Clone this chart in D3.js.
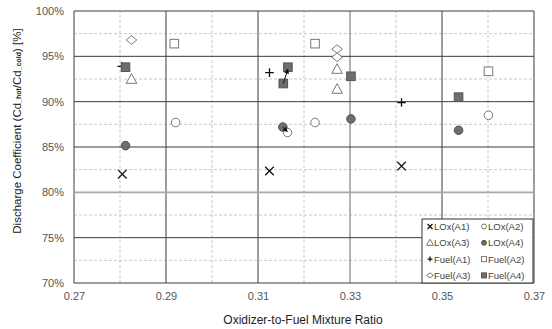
<!DOCTYPE html>
<html>
<head>
<meta charset="utf-8">
<script src="https://cdn.jsdelivr.net/npm/d3@7"></script>
<style>
  body { margin: 0; background: #fff; }
  text { font-family: "Liberation Sans", Arial, sans-serif; }
</style>
</head>
<body>
<div id="chart"></div>
<script>
// Data: [mixture ratio, Cd_hot/Cd_cold %]
const loxA1 = [[0.2805, 82.0], [0.3125, 82.35], [0.3412, 82.9]];
const loxA2 = [[0.2921, 87.7], [0.3224, 87.7], [0.3164, 86.6], [0.3601, 88.5]];
const loxA3 = [[0.2825, 92.5], [0.3272, 93.6], [0.3272, 91.4]];
const loxA4 = [[0.2812, 85.15], [0.3154, 87.2], [0.3302, 88.1], [0.3536, 86.85]];
const fuelA1 = [[0.2804, 93.9], [0.3125, 93.2], [0.3412, 89.9]];
const fuelA2 = [[0.2918, 96.4], [0.3224, 96.4], [0.3601, 93.35]];
const fuelA3 = [[0.2825, 96.8], [0.3272, 95.8], [0.3272, 94.9]];
const fuelA4 = [[0.2812, 93.8], [0.3155, 92.0], [0.3165, 93.8], [0.3302, 92.8], [0.3536, 90.5]];

// arrows drawn on the figure (from -> to)
const arrows = [
  [[0.3155, 92.0], [0.3165, 93.6]],
  [[0.3154, 87.2], [0.3164, 86.7]]
];

const xTicks = [0.27, 0.29, 0.31, 0.33, 0.35, 0.37];
const yTicks = [70, 75, 80, 85, 90, 95, 100];

const series = [
  {name: "LOx(A1)", data: loxA1, shape: "x"},
  {name: "LOx(A2)", data: loxA2, shape: "circleOpen"},
  {name: "LOx(A3)", data: loxA3, shape: "triangle"},
  {name: "LOx(A4)", data: loxA4, shape: "circleFill"},
  {name: "Fuel(A1)", data: fuelA1, shape: "plus"},
  {name: "Fuel(A2)", data: fuelA2, shape: "squareOpen"},
  {name: "Fuel(A3)", data: fuelA3, shape: "diamond"},
  {name: "Fuel(A4)", data: fuelA4, shape: "squareFill"}
];

const width = 552, height = 329;
const margin = {left: 74, right: 18, top: 11, bottom: 46};

const svg = d3.select("#chart").append("svg")
    .attr("width", width)
    .attr("height", height);

const x = d3.scaleLinear().domain([0.27, 0.37]).range([margin.left, width - margin.right]);
const y = d3.scaleLinear().domain([70, 100]).range([height - margin.bottom, margin.top]);

// minor dashed grid
const minorX = d3.range(0.28, 0.37, 0.02);
const minorY = d3.range(72.5, 100, 5);
svg.append("g").selectAll("line").data(minorX).join("line")
    .attr("x1", d => x(d)).attr("x2", d => x(d))
    .attr("y1", y(70)).attr("y2", y(100))
    .attr("stroke", "#c8c8c8").attr("stroke-dasharray", "3,2");
svg.append("g").selectAll("line").data(minorY).join("line")
    .attr("x1", x(0.27)).attr("x2", x(0.37))
    .attr("y1", d => y(d)).attr("y2", d => y(d))
    .attr("stroke", "#c8c8c8").attr("stroke-dasharray", "3,2");

// major grid
svg.append("g").selectAll("line").data(xTicks).join("line")
    .attr("x1", d => x(d)).attr("x2", d => x(d))
    .attr("y1", y(70)).attr("y2", y(100))
    .attr("stroke", d => d === 0.33 ? "#a0a0a0" : "#3c3c3c")
    .attr("stroke-width", d => d === 0.33 ? 1.6 : 1);
svg.append("g").selectAll("line").data(yTicks).join("line")
    .attr("x1", x(0.27)).attr("x2", x(0.37))
    .attr("y1", d => y(d)).attr("y2", d => y(d))
    .attr("stroke", d => d === 80 ? "#a8a8a8" : "#3c3c3c")
    .attr("stroke-width", d => d === 80 ? 1.6 : 1);

// axes (labels only)
const xAxis = svg.append("g")
    .attr("transform", `translate(0,${y(70)})`)
    .call(d3.axisBottom(x).tickValues(xTicks).tickFormat(d3.format(".2f")).tickSize(0).tickPadding(9));
const yAxis = svg.append("g")
    .attr("transform", `translate(${x(0.27)},0)`)
    .call(d3.axisLeft(y).tickValues(yTicks).tickFormat(d => d + "%").tickSize(0).tickPadding(10));
[xAxis, yAxis].forEach(a => {
  a.select(".domain").remove();
  a.selectAll("text").attr("fill", "#555").style("font-size", "11px")
      .style("font-family", "'Liberation Sans', Arial, sans-serif");
});

// arrows
svg.append("defs").append("marker")
    .attr("id", "arrow").attr("viewBox", "0 0 10 10")
    .attr("refX", 9).attr("refY", 5)
    .attr("markerWidth", 5).attr("markerHeight", 5)
    .attr("orient", "auto")
  .append("path").attr("d", "M0,0L10,5L0,10z").attr("fill", "#111");

function drawShape(g, shape, size) {
  const s = size;
  if (shape === "x") {
    g.append("path").attr("d", `M${-s},${-s}L${s},${s}M${-s},${s}L${s},${-s}`)
      .attr("stroke", "#111").attr("stroke-width", 1.3);
  } else if (shape === "plus") {
    g.append("path").attr("d", `M${-s},0L${s},0M0,${-s}L0,${s}`)
      .attr("stroke", "#111").attr("stroke-width", 1.3);
  } else if (shape === "circleOpen") {
    g.append("circle").attr("r", s).attr("fill", "#fff").attr("stroke", "#777");
  } else if (shape === "circleFill") {
    g.append("circle").attr("r", s).attr("fill", "#6e6e6e").attr("stroke", "#555");
  } else if (shape === "squareOpen") {
    g.append("rect").attr("x", -s).attr("y", -s).attr("width", 2 * s).attr("height", 2 * s)
      .attr("fill", "#fff").attr("stroke", "#777");
  } else if (shape === "squareFill") {
    g.append("rect").attr("x", -s).attr("y", -s).attr("width", 2 * s).attr("height", 2 * s)
      .attr("fill", "#6e6e6e").attr("stroke", "#555");
  } else if (shape === "triangle") {
    g.append("path").attr("d", `M0,${-s - 1}L${s + 1},${s}L${-s - 1},${s}Z`)
      .attr("fill", "#fff").attr("stroke", "#777");
  } else if (shape === "diamond") {
    g.append("path").attr("d", `M0,${-s}L${s + 1},0L0,${s}L${-s - 1},0Z`)
      .attr("fill", "#fff").attr("stroke", "#777");
  }
}

// points
series.forEach(sr => {
  svg.append("g").selectAll("g").data(sr.data).join("g")
      .attr("transform", d => `translate(${x(d[0])},${y(d[1])})`)
      .each(function() { drawShape(d3.select(this), sr.shape, 4.3); });
});

svg.append("g").selectAll("line").data(arrows).join("line")
    .attr("x1", d => x(d[0][0])).attr("y1", d => y(d[0][1]))
    .attr("x2", d => x(d[1][0])).attr("y2", d => y(d[1][1]))
    .attr("stroke", "#111").attr("stroke-width", 1)
    .attr("marker-end", "url(#arrow)");

// legend
const lg = svg.append("g").attr("transform", "translate(422,219)");
lg.append("rect").attr("width", 111).attr("height", 64)
    .attr("fill", "#fff").attr("stroke", "#333");
series.forEach((sr, i) => {
  const col = i % 2, row = Math.floor(i / 2);
  const item = lg.append("g").attr("transform", `translate(${8 + col * 54},${7.5 + row * 16.3})`);
  drawShape(item.append("g"), sr.shape, 2.5);
  item.append("text").attr("x", 4).attr("y", 3.5)
      .attr("fill", "#444").style("font-size", "9.5px").text(sr.name);
});

// axis titles
svg.append("text")
    .attr("x", 303).attr("y", 324)
    .attr("text-anchor", "middle").attr("fill", "#222")
    .style("font-size", "12px")
    .text("Oxidizer-to-Fuel Mixture Ratio");

const yl = svg.append("text")
    .attr("transform", `translate(21,131) rotate(-90)`)
    .attr("text-anchor", "middle").attr("fill", "#222")
    .style("font-size", "11.5px");
yl.append("tspan").text("Discharge  Coefficient  (Cd");
yl.append("tspan").text("_hot").style("font-size", "7px").attr("font-weight", "bold");
yl.append("tspan").text("/Cd");
yl.append("tspan").text("_cold").style("font-size", "7px").attr("font-weight", "bold");
yl.append("tspan").text(")  [%]");
</script>
</body>
</html>
